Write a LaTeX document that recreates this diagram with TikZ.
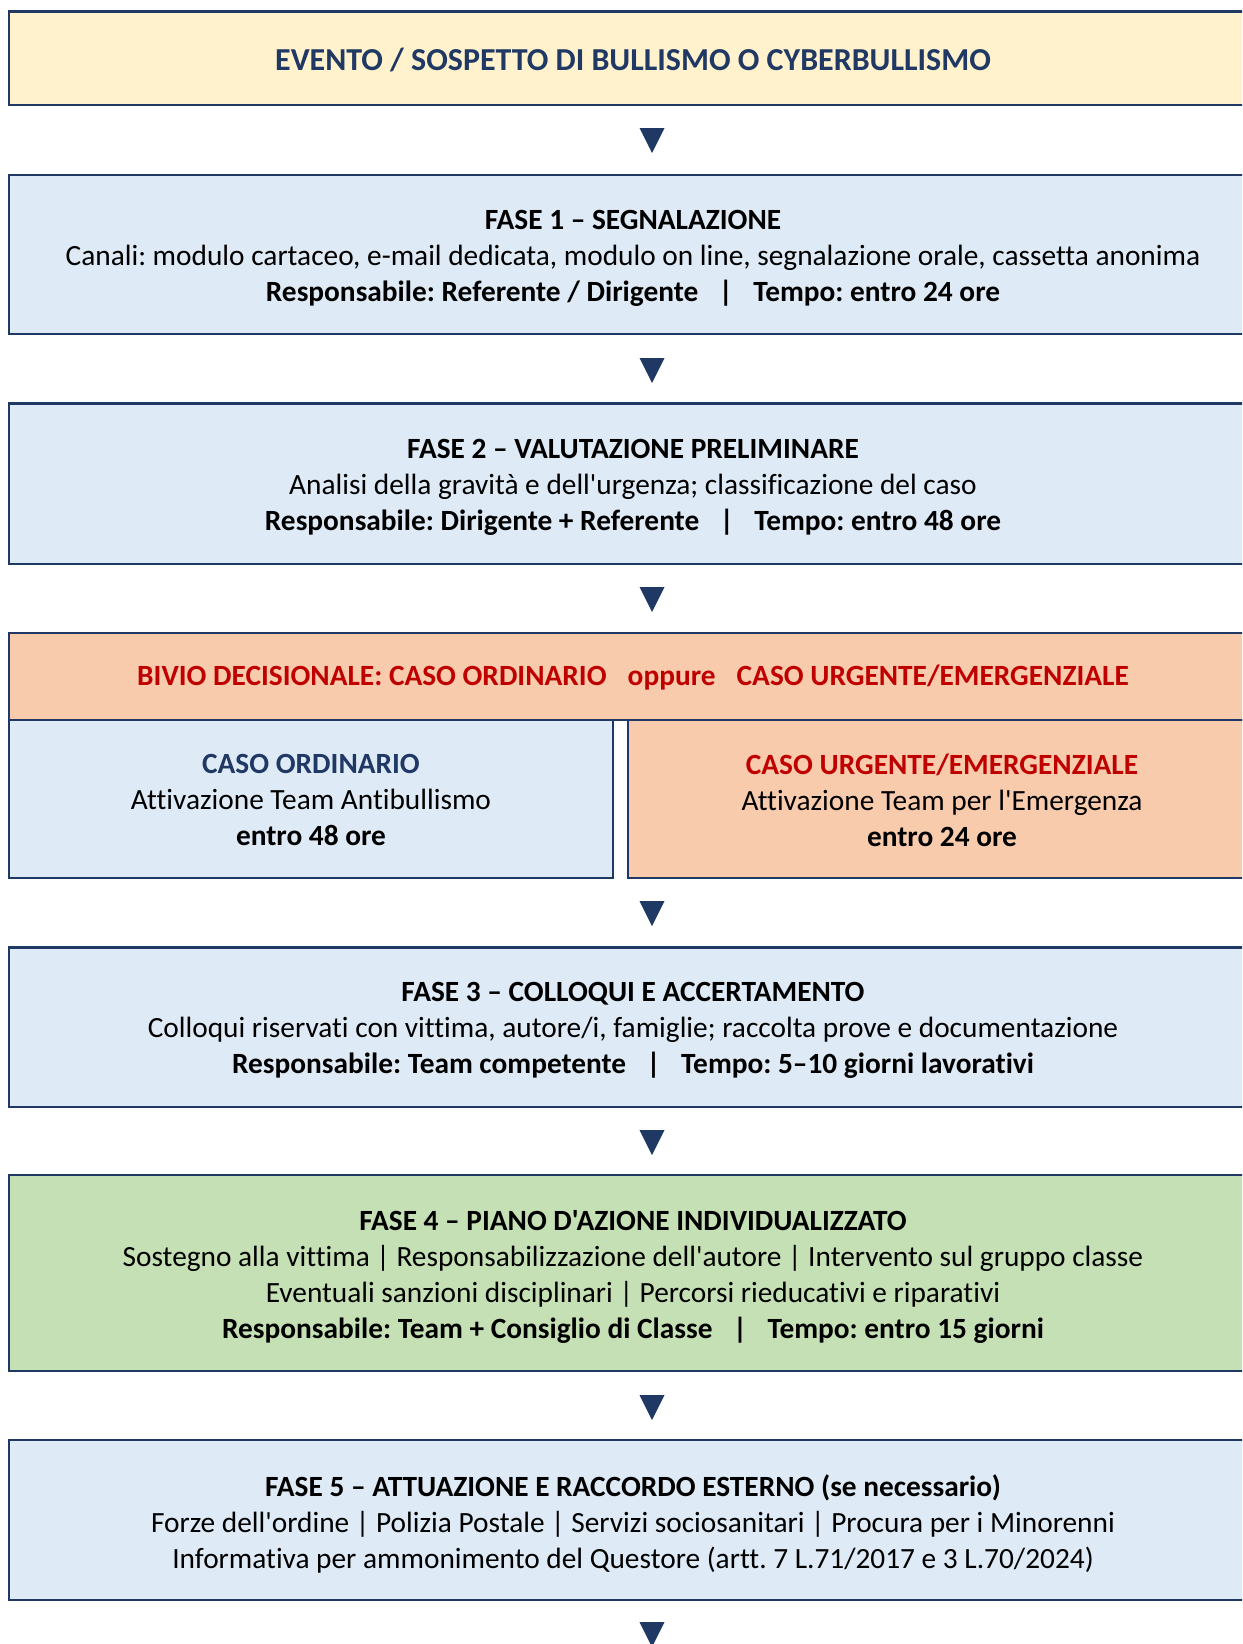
\documentclass[tikz,border=0pt]{standalone}
\usepackage{fontspec}
\setmainfont{Carlito}[Ligatures={TeXOff,NoCommon}]
\usetikzlibrary{positioning}
\definecolor{navy}{HTML}{1F3864}
\definecolor{pale}{HTML}{FFF2CC}
\definecolor{sky}{HTML}{DEEAF6}
\definecolor{peach}{HTML}{F8CBAD}
\definecolor{sage}{HTML}{C5E0B4}
\definecolor{alarm}{HTML}{C00000}
\def\downtri(#1,#2){\fill[navy] ({#1-12.5},#2) -- ({#1+12.5},#2) -- (#1,{#2+25}) -- cycle;}
\def\sepbar{\hspace{0.7em}|\hspace{0.7em}}
\tikzset{
  box/.style={draw=navy, line width=1.2pt},
  txt/.style={align=center, inner sep=0pt, font=\frenchspacing\fontsize{16.7}{20.5}\selectfont},
}

\begin{document}
\begin{tikzpicture}[x=0.02cm, y=-0.02cm]
				\useasboundingbox (0,0) rectangle (1242,1644);
				\clip (0,0) rectangle (1242,1644);
				
				\draw[box, fill=pale] (9, 11.5) rectangle (1257, 104.8);
				\node[txt, text=navy, font=\frenchspacing\fontsize{18.2}{20.5}\selectfont] (evento) at (633, 60) {\bfseries EVENTO / SOSPETTO DI BULLISMO O CYBERBULLISMO};
				\downtri(652,128)
				
				\draw[box, fill=sky] (9, 175) rectangle (1257, 334);
				\node[txt] (fase1) at (633, 258) {\bfseries FASE 1 – SEGNALAZIONE\\
					Canali: modulo cartaceo, e-mail dedicata, modulo on line, segnalazione orale, cassetta anonima\\
					\bfseries Responsabile: Referente / Dirigente\sepbar Tempo: entro 24 ore};
				\downtri(652,358)
				
				\draw[box, fill=sky] (9, 403.5) rectangle (1257, 564);
				\node[txt] (fase2) at (633, 487) {\bfseries FASE 2 – VALUTAZIONE PRELIMINARE\\
					Analisi della gravità e dell'urgenza; classificazione del caso\\
					\bfseries Responsabile: Dirigente + Referente\sepbar Tempo: entro 48 ore};
				\downtri(652,587)
				
				\draw[box, fill=peach] (9, 633) rectangle (1257, 720);
				\node[txt, text=alarm] (bivio) at (633, 678) {\bfseries BIVIO DECISIONALE: CASO ORDINARIO\hspace{12pt}oppure\hspace{12pt}CASO URGENTE/EMERGENZIALE};
				\draw[box, fill=sky] (9, 720) rectangle (613, 878);
				\node[txt] (ordinario) at (311, 800) {{\bfseries\color{navy}CASO ORDINARIO}\\
					Attivazione Team Antibullismo\\
					\bfseries entro 48 ore};
				\draw[box, fill=peach] (628, 720) rectangle (1257, 878);
				\node[txt] (urgente) at (942, 800) {{\bfseries\color{alarm}CASO URGENTE/EMERGENZIALE}\\
					Attivazione Team per l'Emergenza\\
					\bfseries entro 24 ore};
				\downtri(652,901)
				
				\draw[box, fill=sky] (9, 947.5) rectangle (1257, 1107);
				\node[txt] (fase3) at (633, 1030) {\bfseries FASE 3 – COLLOQUI E ACCERTAMENTO\\
					Colloqui riservati con vittima, autore/i, famiglie; raccolta prove e documentazione\\
					\bfseries Responsabile: Team competente\sepbar Tempo: 5–10 giorni lavorativi};
				\downtri(652,1130)
				
				\draw[box, fill=sage] (9, 1175) rectangle (1257, 1371);
				\node[txt] (fase4) at (633, 1277) {\bfseries FASE 4 – PIANO D'AZIONE INDIVIDUALIZZATO\\
					Sostegno alla vittima | Responsabilizzazione dell'autore | Intervento sul gruppo classe\\
					Eventuali sanzioni disciplinari | Percorsi rieducativi e riparativi\\
					\bfseries Responsabile: Team + Consiglio di Classe\sepbar Tempo: entro 15 giorni};
				\downtri(652,1395)
				
				\draw[box, fill=sky] (9, 1440) rectangle (1257, 1600);
				\node[txt] (fase5) at (633, 1524) {\bfseries FASE 5 – ATTUAZIONE E RACCORDO ESTERNO (se necessario)\\
					Forze dell'ordine | Polizia Postale | Servizi sociosanitari | Procura per i Minorenni\\
					Informativa per ammonimento del Questore (artt. 7 L.71/2017 e 3 L.70/2024)};
				\downtri(652,1622)
\end{tikzpicture}
\end{document}
